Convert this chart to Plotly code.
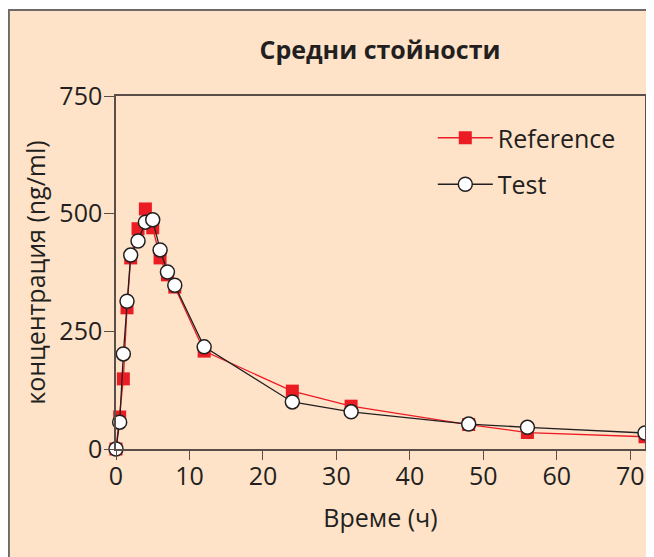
import plotly.graph_objects as go

time_h = [0, 0.5, 1, 1.5, 2, 3, 4, 5, 6, 7, 8, 12, 24, 32, 48, 56, 72]
reference = [0, 68, 149, 300, 406, 468, 510, 470, 406, 370, 344, 208, 123, 91, 52, 35, 26]
test = [0, 57, 202, 314, 412, 442, 482, 487, 423, 376, 348, 217, 100, 79, 53, 46, 34]

x_ticks = [0, 10, 20, 30, 40, 50, 60, 70]
y_ticks = [0, 250, 500, 750]

title_text = "Средни стойности"
x_title = "Време (ч)"
y_title = "концентрация (ng/ml)"

FONT = "Open Sans"
BG = "#fee3c9"
AXC = "#5a4f48"

fig = go.Figure()
fig.add_trace(go.Scatter(
    x=time_h, y=reference, name="Reference", mode="lines+markers", legendgroup="r",
    line=dict(color="#ec1c24", width=1.3),
    marker=dict(symbol="square", size=13, color="#ec1c24", line=dict(width=0)),
    cliponaxis=False,
))
fig.add_trace(go.Scatter(
    x=time_h, y=test, name="Test", mode="lines+markers", legendgroup="t",
    line=dict(color="#231f20", width=1.3),
    marker=dict(symbol="circle", size=14, color="white", line=dict(color="#231f20", width=1.5)),
    cliponaxis=False,
))

# figure pixel coordinates (page has an 8px body margin)
W, H = 646, 549
L, R, T, B = 108, 7, 88, 108
pw, ph = W - L - R, H - T - B

def px2x(px):
    return (px - L) / pw

def py2y(py):
    return (H - B - py) / ph

fig.add_shape(type="rect", xref="paper", yref="paper",
              x0=px2x(0.5), x1=px2x(720), y0=py2y(620), y1=py2y(2),
              line=dict(color="#6e6a68", width=2), fillcolor=BG, layer="below")

fig.update_layout(
    width=W, height=H,
    margin=dict(l=L, r=R, t=T, b=B),
    paper_bgcolor="white", plot_bgcolor=BG,
    font=dict(family=FONT, color="#231f20", size=25),
    title=dict(text="<b>" + title_text + "</b>", x=px2x(373), xref="paper", xanchor="center",
               y=1 - 42 / H, yanchor="middle", font=dict(size=25, family=FONT)),
    legend=dict(x=px2x(426), y=py2y(107), xanchor="left", yanchor="top",
                bgcolor="rgba(0,0,0,0)", font=dict(size=25, family=FONT),
                itemwidth=55, tracegroupgap=11),
    showlegend=True,
)
fig.update_xaxes(range=[0, 72], tickvals=x_ticks, ticks="outside", ticklen=9, tickwidth=1.3,
                 tickcolor=AXC, showline=True, linecolor=AXC, linewidth=1.5, mirror=True,
                 showgrid=False, zeroline=False, tickfont=dict(size=25), ticklabelstandoff=-5,
                 title=dict(text=x_title, font=dict(size=25), standoff=19))
fig.update_yaxes(range=[0, 750], tickvals=y_ticks, ticks="outside", ticklen=10, tickwidth=1.3,
                 tickcolor=AXC, showline=True, linecolor=AXC, linewidth=1.5, mirror=True,
                 showgrid=False, zeroline=False, tickfont=dict(size=25), ticklabelstandoff=-3,
                 title=dict(text=y_title, font=dict(size=25), standoff=7))

fig.write_html("out.html")
